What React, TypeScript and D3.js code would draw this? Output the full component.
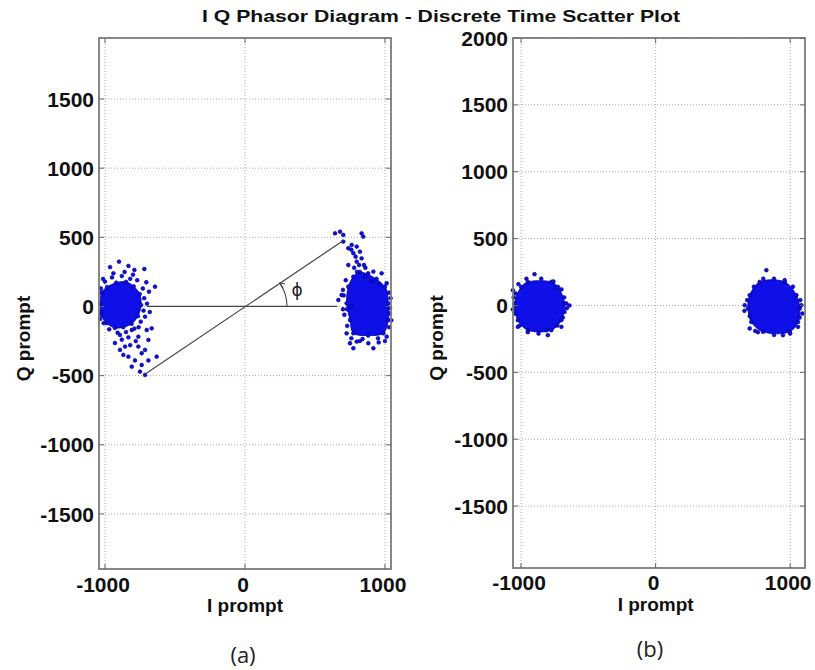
import React from "react";
import * as d3 from "d3";

// ---------- data ----------
const xTicks = [-1000, 0, 1000];
const yTicksA = [-1500, -1000, -500, 0, 500, 1000, 1500];
const yTicksB = [-1500, -1000, -500, 0, 500, 1000, 1500, 2000];

// panel (a) left cluster: dense core outline + scattered points
const aLeftCore: [number, number][] = [
  [-1025, 100], [-1032, 20], [-1028, -60], [-990, -120], [-930, -155], [-870, -150],
  [-810, -125], [-765, -70], [-742, 10], [-752, 90], [-795, 145], [-850, 178],
  [-920, 172], [-985, 140],
];
const aLeftScatter: [number, number][] = [
  [-900, 324], [-964, 285], [-833, 293], [-790, 264], [-719, 271], [-1014, 199],
  [-643, 143], [-686, 107], [-714, -74], [-702, -170], [-809, -170], [-893, -206],
  [-833, -223], [-857, -290], [-762, -290], [-714, -314], [-893, -314], [-869, -350],
  [-631, -363], [-690, -390], [-786, -390], [-809, -435], [-738, -423], [-750, -471],
  [-714, -495], [-929, -264], [-667, -158], [-690, -242], [-762, -218], [-738, -338],
  [-833, -363], [-1030, 130], [-1030, -40],
  [-1000, 180], [-950, 210], [-880, 220], [-820, 200], [-770, 190], [-730, 130],
  [-720, 60], [-700, 20], [-725, -30], [-745, -110], [-790, -160], [-850, -185],
  [-910, -190], [-970, -165], [-1010, -120], [-1035, -90], [-800, 230], [-860, 250],
  [-940, 240], [-705, 175], [-680, -40], [-760, -150], [-880, -240], [-780, -250],
  [-820, -280],
];

// panel (a) right cluster
const aRightCore: [number, number][] = [
  [774, 215], [820, 250], [857, 215], [960, 160], [1000, 143], [1024, 23], [1024, -98],
  [988, -194], [880, -210], [774, -194], [750, -98], [726, 23], [738, 143],
];
const aRightScatter: [number, number][] = [
  [643, 529], [679, 541], [702, 517], [702, 469], [833, 529], [845, 505], [762, 445],
  [738, 421], [798, 433], [821, 396], [774, 385], [833, 348], [738, 300], [798, 324],
  [917, 252], [976, 240], [1012, 168], [667, 47], [690, 83], [1036, -11], [726, -194],
  [750, -266], [798, -254], [881, -266], [917, -302], [774, -302], [1012, -218],
  [800, 250], [880, 240], [940, 200], [1030, 100], [1035, -50], [1030, -150],
  [950, -230], [840, -235], [760, -230], [730, -140], [710, -60], [705, 80],
  [720, 190], [780, 280], [860, 280], [900, 180], [1040, 60], [760, 0], [700, -20],
  [820, -250], [1000, -250], [955, -260], [730, -20], [790, 360], [760, 410],
  [815, 300], [850, 300], [1045, -100], [700, 120],
];

// panel (b) left cluster
const bLeftCore: [number, number][] = [
  [-949, 176], [-775, 176], [-726, 139], [-677, 15], [-701, -110], [-775, -185],
  [-949, -185], [-1024, -110], [-1048, 15], [-999, 139],
];
const bLeftScatter: [number, number][] = [
  [-900, 234], [-664, 15], [-677, -48], [-813, -185], [-801, -222], [-1061, 114],
  [-1024, -160], [-1061, -30], [-960, 200], [-850, 200], [-760, 180], [-700, 120],
  [-680, 60], [-660, -20], [-690, -90], [-730, -150], [-870, -210], [-950, -200],
  [-1010, -150], [-1045, -60], [-1055, 60], [-1020, 160], [-640, 0], [-700, -160],
  [-1040, 90],
];

// panel (b) right cluster
const bRightCore: [number, number][] = [
  [773, 176], [959, 176], [1046, 77], [1071, -22], [1058, -123], [996, -197],
  [798, -197], [711, -123], [686, -22], [699, 77],
];
const bRightScatter: [number, number][] = [
  [823, 264], [662, 2], [946, -222], [699, -172], [1083, 2], [1058, -160], [959, 189],
  [730, 140], [680, 40], [700, -80], [760, -200], [880, -220], [1000, -210],
  [1070, -90], [1075, 40], [1020, 140], [880, 200], [800, 200], [660, -40],
  [1090, -60], [740, -190],
];

// phasor lines in panel (a)
const refLine: [number, number][] = [[-700, 0], [660, 0]];
const phasorLine: [number, number][] = [[-715, -490], [700, 475]];

const FONT = "'Liberation Sans', Arial, Helvetica, sans-serif";
const BLUE = "#0f0fe8";

type PanelProps = {
  left: number; right: number; top: number; bottom: number;
  xDomain: [number, number]; yDomain: [number, number];
  yTicks: number[];
  clusters: { core: [number, number][]; scatter: [number, number][] }[];
  xLabelY: number; yLabelX: number; xTitleY: number;
  children?: (x: d3.ScaleLinear<number, number>, y: d3.ScaleLinear<number, number>) => React.ReactNode;
};

function Panel(p: PanelProps) {
  const x = d3.scaleLinear().domain(p.xDomain).range([p.left, p.right]);
  const y = d3.scaleLinear().domain(p.yDomain).range([p.bottom, p.top]);
  const blob = d3.line<[number, number]>().x(d => d[0]).y(d => d[1]).curve(d3.curveCatmullRomClosed);
  const tl = 5;
  return (
    <g>
      {/* grid */}
      {xTicks.map(t => (
        <line key={"gx" + t} x1={x(t)} x2={x(t)} y1={p.top} y2={p.bottom}
          stroke="#a8a8a8" strokeWidth={1} strokeDasharray="1,2" />
      ))}
      {p.yTicks.map(t => (
        <line key={"gy" + t} x1={p.left} x2={p.right} y1={y(t)} y2={y(t)}
          stroke="#a8a8a8" strokeWidth={1} strokeDasharray="1,2" />
      ))}
      {/* clusters */}
      {p.clusters.map((c, i) => {
        const px = c.core.map(d => [x(d[0]), y(d[1])] as [number, number]);
        const hull = d3.polygonHull(px) || px;
        return (
          <g key={"c" + i}>
            <path d={blob(hull as [number, number][]) || ""} fill={BLUE} stroke="#0000a0" strokeWidth={0.8} />
            {c.core.concat(c.scatter).map((d, j) => (
              <circle key={j} cx={x(d[0])} cy={y(d[1])} r={1.9} fill={BLUE} stroke="#00007a" strokeWidth={0.6} />
            ))}
          </g>
        );
      })}
      {p.children && p.children(x, y)}
      {/* frame */}
      <rect x={p.left} y={p.top} width={p.right - p.left} height={p.bottom - p.top}
        fill="none" stroke="#7a7a7a" strokeWidth={1.8} />
      {/* ticks */}
      {xTicks.map(t => (
        <g key={"tx" + t}>
          <line x1={x(t)} x2={x(t)} y1={p.bottom} y2={p.bottom - tl} stroke="#666" />
          <line x1={x(t)} x2={x(t)} y1={p.top} y2={p.top + tl} stroke="#666" />
          <text x={x(t) - 2} y={p.xLabelY} textAnchor="middle" fontFamily={FONT} fontWeight="bold"
            fontSize={21} fill="#111">{t}</text>
        </g>
      ))}
      {p.yTicks.map(t => (
        <g key={"ty" + t}>
          <line x1={p.left} x2={p.left + tl} y1={y(t)} y2={y(t)} stroke="#666" />
          <line x1={p.right} x2={p.right - tl} y1={y(t)} y2={y(t)} stroke="#666" />
          <text x={p.left - 5} y={y(t)} dy="0.36em" textAnchor="end" fontFamily={FONT} fontWeight="bold"
            fontSize={21} fill="#111">{t}</text>
        </g>
      ))}
      {/* axis labels */}
      <text x={(x(0))} y={p.xTitleY} textAnchor="middle" fontFamily={FONT} fontWeight="bold"
        fontSize={19} fill="#111">I prompt</text>
      <text transform={`translate(${p.yLabelX},${(p.top + p.bottom) / 2 + 35}) rotate(-90)`}
        textAnchor="middle" fontFamily={FONT} fontWeight="bold" fontSize={19} fill="#111">Q prompt</text>
    </g>
  );
}

export default function App() {
  return (
    <svg width={815} height={670} style={{ position: "absolute", left: 0, top: 0, background: "#fff" }}>
      <rect width={815} height={670} fill="#fff" />
      <text x={441} y={22} textAnchor="middle" fontFamily={FONT} fontWeight="bold" fontSize={17}
        fill="#111" textLength={478} lengthAdjust="spacingAndGlyphs">
        I Q Phasor Diagram - Discrete Time Scatter Plot
      </text>
      <Panel left={99} right={391} top={38} bottom={569}
        xDomain={[-1043, 1043]} yDomain={[-1898, 1941]} yTicks={yTicksA}
        clusters={[{ core: aLeftCore, scatter: aLeftScatter }, { core: aRightCore, scatter: aRightScatter }]}
        xLabelY={592} yLabelX={30} xTitleY={612}>
        {(x, y) => {
          const ln = d3.line<[number, number]>().x(d => x(d[0])).y(d => y(d[1]));
          const ox = x(0), oy = y(0);
          const ex = x(phasorLine[1][0]) - ox, ey = oy - y(phasorLine[1][1]);
          const th = Math.atan2(ey, ex);
          const r = 42;
          const ax = ox + r * Math.cos(th), ay = oy - r * Math.sin(th);
          const arcPath = d3.path();
          arcPath.moveTo(ox + r, oy);
          arcPath.arc(ox, oy, r, 0, -th, true);
          return (
            <g>
              <path d={ln(refLine) || ""} stroke="#444" strokeWidth={1.2} fill="none" />
              <path d={ln(phasorLine) || ""} stroke="#444" strokeWidth={1.2} fill="none" />
              <path d={arcPath.toString()} stroke="#444" strokeWidth={1.1} fill="none" />
              <path d={`M${ax + 5},${ay + 1}L${ax},${ay}L${ax + 3},${ay + 5}`} stroke="#444" strokeWidth={1.1} fill="none" />
              <text x={ox + 52} y={oy - 10} textAnchor="middle" fontFamily="'DejaVu Sans', sans-serif"
                fontSize={17} fill="#222">ϕ</text>
            </g>
          );
        }}
      </Panel>
      <Panel left={513} right={805} top={38} bottom={568}
        xDomain={[-1060, 1110]} yDomain={[-1963, 2000]} yTicks={yTicksB}
        clusters={[{ core: bLeftCore, scatter: bLeftScatter }, { core: bRightCore, scatter: bRightScatter }]}
        xLabelY={590} yLabelX={443} xTitleY={611} />
      <text x={243} y={663} textAnchor="middle" fontFamily="'Open Sans', 'Noto Sans', sans-serif"
        fontSize={22} fill="#222">(a)</text>
      <text x={650} y={657} textAnchor="middle" fontFamily="'Open Sans', 'Noto Sans', sans-serif"
        fontSize={22} fill="#222">(b)</text>
    </svg>
  );
}
